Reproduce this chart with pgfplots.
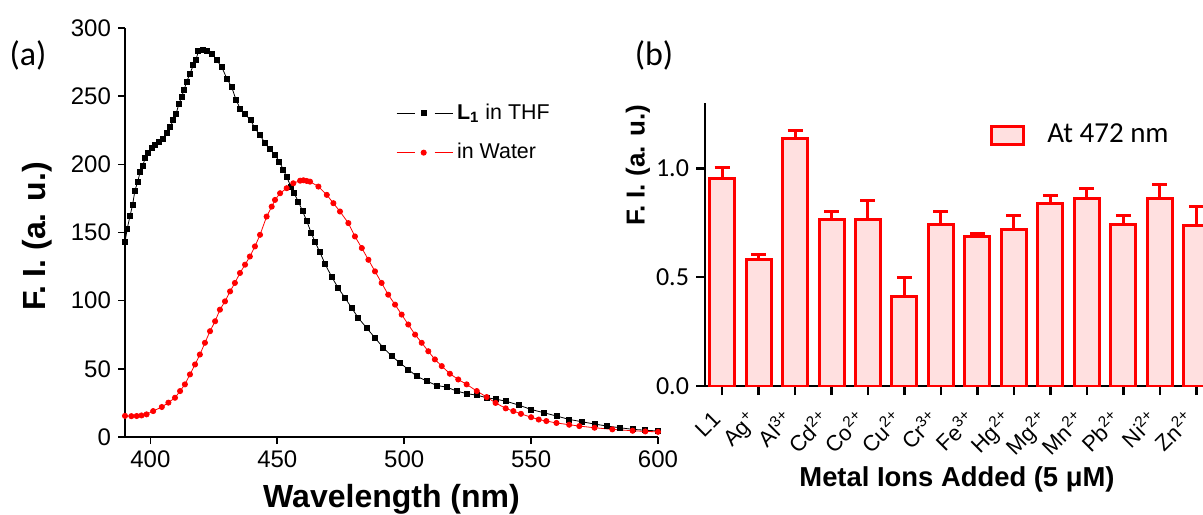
\documentclass[border=0pt]{standalone}
\usepackage{fontspec}
\setmainfont{Liberation Sans}
\newfontfamily\carlito{Carlito}
\usepackage{pgfplots}
\usepackage{pgfplotstable}
\pgfplotsset{compat=1.18}
\definecolor{barpink}{RGB}{255,224,224}

\pgfplotstableread{
x y
390 143
390.9 153
392.0 162.4
393.0 170.3
393.9 180.7
395.0 187.3
396.0 194.6
397.0 199.0
398.0 204.9
399.2 208.5
400.5 211.7
401.8 214.2
403.4 216.6
404.8 219.0
406.4 222.7
407.7 227.1
409.0 232.4
410.1 236.8
411.2 244.2
412.3 249.5
413.2 254.4
414.3 260.5
415.6 266.6
416.9 272.7
418.0 276.9
418.9 283.0
420.6 283.7
422.4 283.0
424.2 281.3
426.1 276.4
428.1 271.5
430.1 263.0
432.0 256.8
433.7 247.6
435.3 241.0
437.3 236.8
439.5 232.4
441.2 226.4
443.2 221.5
445.2 215.4
447.1 211.0
449.1 206.9
450.8 202.0
452.4 195.9
453.7 191.0
455.3 183.7
456.6 178.8
458.3 172.7
460.0 165.5
461.6 158.5
463.3 150.0
464.9 143.0
466.8 135.5
468.8 127.0
471.4 117.6
474.0 109.3
476.7 102.0
479.3 94.7
481.9 87.4
485.2 80.0
488.5 72.7
491.8 65.4
495.1 59.3
498.3 54.4
501.6 49.5
504.9 44.6
508.9 41.0
512.8 37.8
516.7 36.6
520.7 33.7
524.6 31.8
528.6 30.7
532.5 28.8
536 27.8
540 26.3
545 23.5
550 20.2
555 17.8
560 15.4
565 12.9
570 11.2
575 9.5
580 8.0
585 6.8
590 5.6
595 5.0
600 4.4
}\thf

\pgfplotstableread{
x y
390 15.5
392.5 15.3
394.6 15.4
396.5 15.8
398.5 16.6
401.1 19.0
404.5 22.0
407.1 25.2
409.7 28.8
411.7 33.7
413.6 38.6
415.6 45.9
417.6 53.2
419.5 60.5
421.5 69.1
423.5 77.6
425.5 84.9
427.4 93.4
429.4 99.5
431.4 106.8
433.3 113.0
435.3 120.3
437.3 126.4
439.2 132.4
441.2 139.8
443.2 148.3
445.8 161.7
447.8 169.0
449.1 173.9
451.1 178.8
453.7 182.5
456.3 186.1
459.0 188.0
460.3 188.3
461.6 187.8
462.9 187.3
466.2 183.7
469.5 177.6
472.1 171.5
474.7 165.4
478.0 156.9
480.6 147.1
483.3 138.6
485.9 130.0
488.5 121.5
491.1 113.0
493.7 104.4
496.4 97.1
499.0 89.8
501.6 82.5
504.3 75.1
506.9 69.1
509.5 62.9
512.1 56.9
514.8 52.0
518.0 46.4
521.3 42.2
524.6 38.6
528.6 33.7
532.5 29.3
536 25.0
540 21.0
543 19.0
546 17.0
550 14.5
553 12.8
556 11.7
560 10.3
565 9.0
569 8.0
575 6.8
582 5.6
590 4.6
595 4.1
600 3.8
}\water

\pgfplotstableread{
x y e
0 0.955 0.05
1 0.580 0.022
2 1.138 0.035
3 0.763 0.040
4 0.763 0.090
5 0.409 0.091
6 0.743 0.060
7 0.689 0.012
8 0.717 0.066
9 0.838 0.035
10 0.863 0.042
11 0.743 0.040
12 0.863 0.062
13 0.738 0.085
}\bars

\begin{document}
\begin{tikzpicture}
\useasboundingbox (0,0) rectangle (601.5pt,257pt);
\begin{axis}[
  at={(62.5pt,38.5pt)}, anchor=south west,
  width=266.5pt, height=204.5pt, scale only axis,
  xmin=390, xmax=600, ymin=0, ymax=300,
  axis lines=left, axis line style={line width=1pt,-},
  xtick={400,450,500,550,600}, ytick={0,50,100,150,200,250,300},
  tick align=outside, major tick length=3.5pt,
  tick style={line width=0.8pt, black},
  ticklabel style={font=\fontsize{12}{12}\selectfont},
  /pgf/number format/assume math mode=true,
  xlabel={\textbf{Wavelength (nm)}},
  xlabel style={font=\fontsize{16}{16}\selectfont, at={(rel axis cs:0.5,-0.152)}, anchor=center},
  ylabel={\textbf{F. I. (a. u.)}},
  ylabel style={font=\fontsize{16}{16}\selectfont, at={(rel axis cs:-0.165,0.49)}, anchor=center, rotate=0},
  legend style={at={(0.497,0.835)}, anchor=north west, draw=none, fill=none,
    font=\fontsize{10.7}{12}\selectfont, row sep=6.5pt},
  legend cell align=left,
  legend image code/.code={
    \draw[#1,mark=none] (0pt,0pt) -- (9pt,0pt);
    \draw[#1,mark=none] (19pt,0pt) -- (28pt,0pt);
    \draw[#1] plot coordinates {(13.5pt,0pt)};
  },
]
\addplot[black, line width=0.4pt, mark=square*, mark size=1.25pt, mark options={solid}] table[x=x,y=y] {\thf};
\addlegendentry{\textbf{L}\textsubscript{\textbf{1}} in THF}
\addplot[red, line width=0.4pt, mark=*, mark size=1.3pt, mark options={solid}] table[x=x,y=y] {\water};
\addlegendentry{in Water}
\end{axis}

\begin{axis}[
  at={(352.5pt,64pt)}, anchor=south west,
  width=249pt, height=141.5pt, scale only axis,
  xmin=-0.466, xmax=13.18, ymin=0, ymax=1.3,
  axis lines=left, axis line style={line width=1.2pt,-},
  xtick={0,...,13},
  xticklabels={L1, Ag\textsuperscript{+}, Al\textsuperscript{3+}, Cd\textsuperscript{2+}, Co\textsuperscript{2+}, Cu\textsuperscript{2+}, Cr\textsuperscript{3+}, Fe\textsuperscript{3+}, Hg\textsuperscript{2+}, Mg\textsuperscript{2+}, Mn\textsuperscript{2+}, Pb\textsuperscript{2+}, Ni\textsuperscript{2+}, Zn\textsuperscript{2+}},
  xticklabel style={rotate=45, anchor=base east, inner sep=0pt, font=\fontsize{11}{11}\selectfont},
  xticklabel shift=13pt,
  ytick={0,0.5,1}, yticklabels={0.0,0.5,1.0},
  yticklabel style={font=\carlito\fontsize{13}{13}\selectfont},
  tick align=outside, major tick length=4.5pt,
  tick style={line width=1.2pt, black},
  xlabel={\textbf{Metal Ions Added (5 μM)}},
  xlabel style={font=\fontsize{13.7}{13.7}\selectfont, at={(rel axis cs:0.506,-0.33)}, anchor=center},
  ylabel={\textbf{F. I. (a. u.)}},
  ylabel style={font=\fontsize{13}{13}\selectfont, at={(rel axis cs:-0.135,0.78)}, anchor=center, rotate=0},
  ybar, bar width=12.5pt,
  legend style={at={(0.56,0.955)}, anchor=north west, draw=none, fill=none,
    font=\carlito\fontsize{14.5}{14.5}\selectfont},
  legend image code/.code={\draw[#1] (0pt,-4.5pt) rectangle (16pt,4.5pt);},
]
\addplot[draw=red, line width=1.5pt, fill=barpink,
  error bars/.cd, y dir=plus, y explicit,
  error bar style={line width=1.5pt, red},
  error mark options={rotate=90, mark size=3.75pt, line width=1.5pt, red}]
  table[x=x, y=y, y error=e] {\bars};
\addlegendentry{\hspace{9pt}At 472 nm}
\end{axis}

\node[font=\carlito\fontsize{17}{17}\selectfont] at (14pt,229.5pt) {(a)};
\node[font=\carlito\fontsize{17}{17}\selectfont] at (327pt,229.5pt) {(b)};
\end{tikzpicture}
\end{document}
